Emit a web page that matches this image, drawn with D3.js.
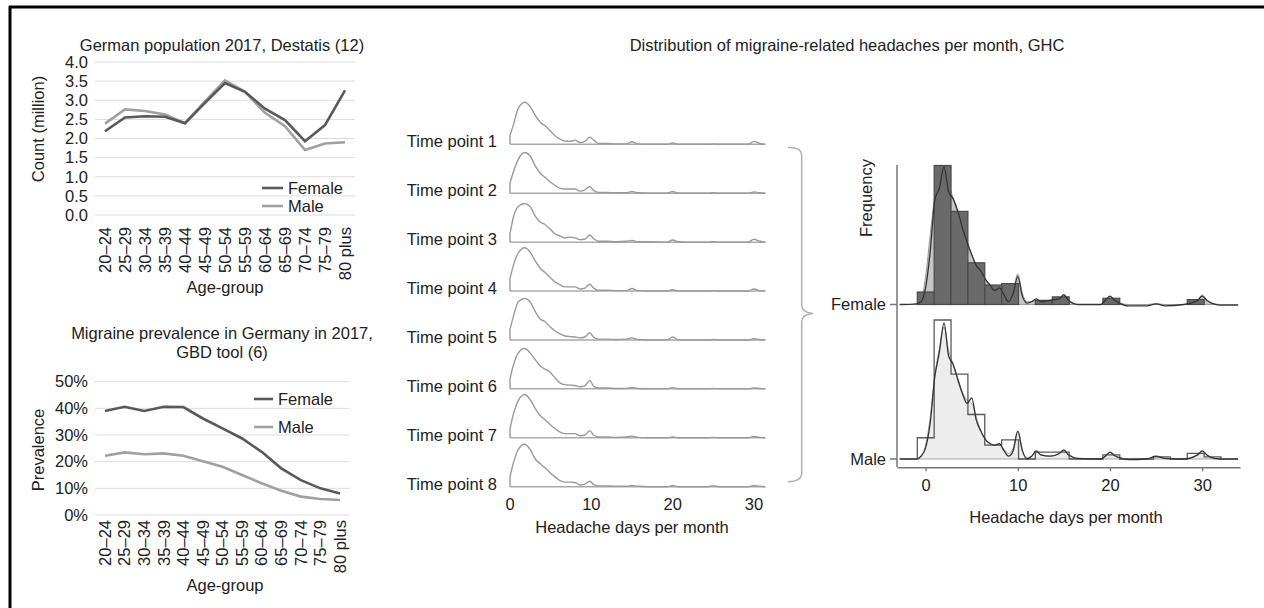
<!DOCTYPE html>
<html>
<head>
<meta charset="utf-8">
<script src="https://cdn.jsdelivr.net/npm/d3@7"></script>
<style>
    html, body { margin: 0; padding: 0; background: #fff; }
    svg { display: block; font-family: "Liberation Sans", Arial, sans-serif; }
    text { fill: #222; font-size: 16.5px; }
</style>
</head>
<body>
<script>
// age-group panels
const ageGroups = ['20–24', '25–29', '30–34', '35–39', '40–44', '45–49', '50–54', '55–59', '60–64', '65–69', '70–74', '75–79', '80 plus']
const popFemale = [2.19, 2.55, 2.58, 2.57, 2.4, 2.93, 3.45, 3.22, 2.78, 2.48, 1.93, 2.35, 3.26]
const popMale = [2.39, 2.76, 2.72, 2.63, 2.4, 2.97, 3.52, 3.22, 2.67, 2.32, 1.7, 1.87, 1.9]
const popTicks = [0, 0.5, 1, 1.5, 2, 2.5, 3, 3.5, 4]

const prevFemale = [39, 40.6, 39, 40.6, 40.5, 36.2, 32.5, 28.7, 23.7, 17.5, 13.1, 10, 8.1]
const prevMale = [22.2, 23.5, 22.8, 23.1, 22.2, 20.2, 18.1, 15, 11.9, 9.1, 6.9, 6, 5.6]
const prevTicks = [0, 10, 20, 30, 40, 50]

// ridgelines (relative density per time point)
const timePoints = ['Time point 1', 'Time point 2', 'Time point 3', 'Time point 4', 'Time point 5', 'Time point 6', 'Time point 7', 'Time point 8']
const ridgeDays = [0, 0.4, 1, 1.8, 2.5, 3.1, 3.7, 4.3, 4.9, 5.5, 6.1, 6.7, 7.4, 8, 8.6, 9.2, 9.8, 10.3, 10.9, 12, 13, 14.3, 15, 15.7, 17, 19.3, 20, 20.7, 22, 24.3, 25, 25.7, 27, 29.3, 30, 30.7, 31.4]
const tp1 = [0.21, 0.45, 0.85, 1.0, 0.89, 0.69, 0.53, 0.44, 0.33, 0.21, 0.13, 0.08, 0.07, 0.1, 0.04, 0.07, 0.17, 0.1, 0.02, 0.02, 0.01, 0.01, 0.06, 0.01, 0, 0, 0.03, 0, 0, 0, 0.01, 0, 0, 0, 0.07, 0.02, 0]
const tp2 = [0.24, 0.5, 0.8, 0.97, 0.88, 0.65, 0.48, 0.38, 0.28, 0.19, 0.12, 0.1, 0.1, 0.1, 0.05, 0.08, 0.16, 0.06, 0.02, 0.02, 0.01, 0.01, 0.04, 0.01, 0, 0, 0.04, 0, 0, 0, 0.01, 0, 0, 0, 0.03, 0.01, 0]
const tp3 = [0.2, 0.58, 0.85, 0.92, 0.84, 0.62, 0.48, 0.42, 0.32, 0.2, 0.15, 0.1, 0.12, 0.1, 0.06, 0.07, 0.17, 0.08, 0.02, 0.02, 0.01, 0.02, 0.04, 0.01, 0.01, 0, 0.05, 0.01, 0, 0, 0.01, 0, 0, 0, 0.07, 0.02, 0]
const tp4 = [0.3, 0.6, 0.9, 1.03, 0.92, 0.72, 0.55, 0.44, 0.33, 0.22, 0.15, 0.1, 0.1, 0.1, 0.05, 0.07, 0.16, 0.07, 0.02, 0.02, 0.01, 0.01, 0.06, 0.01, 0, 0, 0.03, 0, 0, 0, 0.01, 0, 0, 0, 0.05, 0.01, 0]
const tp5 = [0.25, 0.55, 0.9, 0.99, 0.9, 0.68, 0.5, 0.44, 0.32, 0.22, 0.15, 0.1, 0.08, 0.07, 0.05, 0.07, 0.17, 0.06, 0.02, 0.02, 0.01, 0.02, 0.05, 0.01, 0, 0, 0.07, 0, 0, 0, 0.01, 0, 0, 0, 0.03, 0.01, 0]
const tp6 = [0.24, 0.55, 0.85, 0.96, 0.85, 0.7, 0.55, 0.47, 0.4, 0.27, 0.15, 0.1, 0.09, 0.08, 0.05, 0.07, 0.2, 0.06, 0.02, 0.02, 0.01, 0.01, 0.03, 0.01, 0, 0, 0.03, 0, 0, 0, 0.01, 0, 0, 0, 0.02, 0.01, 0]
const tp7 = [0.21, 0.55, 0.88, 1.03, 0.9, 0.7, 0.53, 0.43, 0.32, 0.22, 0.14, 0.1, 0.1, 0.1, 0.05, 0.06, 0.17, 0.06, 0.02, 0.02, 0.01, 0.02, 0.04, 0.01, 0, 0, 0.02, 0, 0, 0, 0.01, 0, 0, 0, 0.03, 0.01, 0]
const tp8 = [0.24, 0.55, 0.88, 1.01, 0.88, 0.66, 0.55, 0.45, 0.34, 0.24, 0.15, 0.11, 0.11, 0.1, 0.04, 0.06, 0.13, 0.05, 0.02, 0.02, 0.01, 0.01, 0.03, 0.01, 0, 0, 0.03, 0, 0, 0, 0.02, 0, 0, 0, 0.03, 0.01, 0]
const ridgeTicks = [0, 10, 20, 30]

// pooled histogram + densities by sex
const histEdges = [-0.9, 0.93, 2.76, 4.59, 6.42, 8.25, 10.08, 11.91, 13.74, 15.57, 17.4, 19.23, 21.06, 22.89, 24.72, 26.55, 28.38, 30.21, 32.04]
const histFemale = [0.09, 1.0, 0.67, 0.3, 0.14, 0.15, 0, 0.03, 0.055, 0, 0, 0.045, 0, 0, 0, 0, 0.035, 0]
const histMale = [0.153, 1.0, 0.61, 0.32, 0.1, 0.137, 0, 0.05, 0.05, 0, 0, 0.03, 0, 0, 0.015, 0, 0.04, 0.015]
const densDays = [-2.8, -1, -0.5, 0, 0.5, 1, 1.5, 2, 2.5, 3, 3.5, 4, 4.5, 5, 5.5, 6, 6.5, 7, 7.5, 8, 8.5, 9, 9.5, 10, 10.5, 11, 11.5, 12, 12.5, 13.5, 14.5, 15, 15.5, 16.5, 19, 19.5, 20, 20.5, 21, 22, 24, 25, 26, 28, 29.5, 30, 30.5, 31, 32, 33.9]
const femaleSmooth = [0, 0, 0.03, 0.2, 0.5, 0.78, 0.9, 0.97, 0.87, 0.76, 0.65, 0.54, 0.44, 0.36, 0.28, 0.22, 0.17, 0.13, 0.11, 0.1, 0.07, 0.05, 0.1, 0.22, 0.08, 0.02, 0.02, 0.03, 0.02, 0.03, 0.04, 0.06, 0.03, 0, 0, 0.03, 0.06, 0.03, 0.01, 0, 0, 0.005, 0, 0, 0.03, 0.07, 0.03, 0.01, 0, 0]
const femaleRaw = [0, 0.005, 0.02, 0.12, 0.38, 0.75, 0.84, 0.99, 0.81, 0.76, 0.67, 0.55, 0.45, 0.36, 0.28, 0.24, 0.18, 0.14, 0.1, 0.12, 0.07, 0.02, 0.08, 0.2, 0.06, 0.01, 0.02, 0.04, 0.02, 0.03, 0.04, 0.07, 0.03, 0, 0, 0.03, 0.06, 0.03, 0.01, -0.01, -0.01, 0.005, -0.01, 0, 0.03, 0.06, 0.03, 0.01, -0.005, -0.005]
const maleSmooth = [0, 0, 0.02, 0.1, 0.3, 0.6, 0.8, 0.95, 0.78, 0.68, 0.58, 0.48, 0.42, 0.4, 0.3, 0.2, 0.14, 0.11, 0.1, 0.1, 0.07, 0.04, 0.08, 0.2, 0.06, 0.01, 0.02, 0.05, 0.03, 0.02, 0.04, 0.06, 0.03, 0, 0, 0.02, 0.05, 0.02, 0.01, 0, 0, 0.02, 0, 0, 0.03, 0.055, 0.03, 0.01, 0, 0]
const maleRaw = [0, 0, 0.02, 0.08, 0.26, 0.59, 0.77, 0.98, 0.74, 0.68, 0.57, 0.47, 0.4, 0.44, 0.28, 0.2, 0.14, 0.11, 0.1, 0.11, 0.06, 0.02, 0.06, 0.2, 0.06, 0, 0.02, 0.058, 0.03, 0.02, 0.04, 0.065, 0.03, 0.005, 0, 0.02, 0.05, 0.025, 0.01, -0.005, 0, 0.02, 0.005, 0, 0.03, 0.058, 0.03, 0.01, 0, 0]
const sexes = ['Female', 'Male']
const histTicks = [0, 10, 20, 30]

const width = 1264
const height = 608
const svg = d3.select('body').append('svg')
    .attr('width', width)
    .attr('height', height)

// frame
svg.append('line').attr('x1', 10).attr('x2', 10).attr('y1', 6).attr('y2', height)
    .attr('stroke', '#000').attr('stroke-width', 3)
svg.append('line').attr('x1', 9).attr('x2', width).attr('y1', 7).attr('y2', 7)
    .attr('stroke', '#000').attr('stroke-width', 3)

const femaleColor = '#595959'
const maleColor = '#a0a0a0'

function agePanel(opts) {
    const x = d3.scalePoint().domain(ageGroups).range(opts.xRange).padding(0)
    const y = d3.scaleLinear().domain(opts.yDomain).range(opts.yRange)
    const g = svg.append('g')

    g.selectAll('line.grid')
        .data(opts.ticks)
        .enter()
        .append('line')
        .attr('x1', opts.gridX[0])
        .attr('x2', opts.gridX[1])
        .attr('y1', d => y(d))
        .attr('y2', d => y(d))
        .attr('stroke', '#dcdcdc')
        .attr('stroke-width', 1)

    g.selectAll('text.ytick')
        .data(opts.ticks)
        .enter()
        .append('text')
        .attr('x', opts.gridX[0] - 7)
        .attr('y', d => y(d))
        .attr('dy', '0.35em')
        .attr('text-anchor', 'end')
        .text(opts.fmt)

    g.selectAll('text.xtick')
        .data(ageGroups)
        .enter()
        .append('text')
        .attr('transform', d => `translate(${x(d)},${opts.xLabelTop}) rotate(-90)`)
        .attr('dy', '0.35em')
        .attr('text-anchor', 'end')
        .text(d => d)

    const line = d3.line()
        .x((d, i) => x(ageGroups[i]))
        .y(d => y(d))

    g.append('path').datum(opts.male)
        .attr('d', line)
        .attr('fill', 'none')
        .attr('stroke', maleColor)
        .attr('stroke-width', 2.6)
    g.append('path').datum(opts.female)
        .attr('d', line)
        .attr('fill', 'none')
        .attr('stroke', femaleColor)
        .attr('stroke-width', 2.6)

    // legend
    const leg = [['Female', femaleColor], ['Male', maleColor]]
    leg.forEach((l, i) => {
        const ly = opts.legend.y + i * opts.legend.gap
        g.append('line')
            .attr('x1', opts.legend.x).attr('x2', opts.legend.x + opts.legend.len)
            .attr('y1', ly).attr('y2', ly)
            .attr('stroke', l[1]).attr('stroke-width', 2.6)
        g.append('text')
            .attr('x', opts.legend.x + opts.legend.len + 5)
            .attr('y', ly)
            .attr('dy', '0.35em')
            .text(l[0])
    })

    g.append('text')
        .attr('transform', `translate(38,${opts.yLabelY}) rotate(-90)`)
        .attr('dy', '0.35em')
        .attr('text-anchor', 'middle')
        .text(opts.yLabel)

    g.append('text')
        .attr('x', 225)
        .attr('y', opts.xLabelY)
        .attr('text-anchor', 'middle')
        .text('Age-group')

    opts.title.forEach((t, i) => {
        g.append('text')
            .attr('x', 222)
            .attr('y', opts.titleY + i * 19)
            .attr('text-anchor', 'middle')
            .text(t)
    })
}

agePanel({
    xRange: [105, 345], gridX: [95, 355],
    yDomain: [0, 4], yRange: [215, 62],
    ticks: popTicks, fmt: d3.format('.1f'),
    female: popFemale, male: popMale,
    xLabelTop: 227, xLabelY: 293,
    yLabel: 'Count (million)', yLabelY: 129,
    legend: { x: 262, y: 188, gap: 18, len: 21 },
    title: ['German population 2017, Destatis (12)'], titleY: 51
})

agePanel({
    xRange: [105, 340], gridX: [95, 350],
    yDomain: [0, 50], yRange: [515, 381.7],
    ticks: prevTicks, fmt: d => d + '%',
    female: prevFemale, male: prevMale,
    xLabelTop: 520, xLabelY: 591,
    yLabel: 'Prevalence', yLabelY: 450,
    legend: { x: 254, y: 399, gap: 28, len: 19 },
    title: ['Migraine prevalence in Germany in 2017,', 'GBD tool (6)'], titleY: 339
})

// middle: ridgelines
svg.append('text')
    .attr('x', 847)
    .attr('y', 51)
    .attr('text-anchor', 'middle')
    .text('Distribution of migraine-related headaches per month, GHC')

const ridgeX = d3.scaleLinear().domain([0, 30]).range([510, 754])
const ridgeY = d3.scalePoint().domain(timePoints).range([144.3, 486.7])
const ridgeH = d3.scaleLinear().domain([0, 1]).range([0, 42])
const ridges = [tp1, tp2, tp3, tp4, tp5, tp6, tp7, tp8]

timePoints.forEach((tp, i) => {
    const base = ridgeY(tp)
    const pts = ridgeDays.map((d, j) => [d, ridges[i][j]])
    const line = d3.line()
        .x(d => ridgeX(d[0]))
        .y(d => base - ridgeH(d[1]))
        .curve(d3.curveMonotoneX)

    svg.append('line')
        .attr('x1', ridgeX(0)).attr('x2', ridgeX(d3.max(ridgeDays)))
        .attr('y1', base).attr('y2', base)
        .attr('stroke', '#aaa').attr('stroke-width', 1.5)

    svg.append('path')
        .attr('d', 'M' + ridgeX(0) + ',' + base + 'L' + line(pts).slice(1))
        .attr('fill', 'none')
        .attr('stroke', '#9a9a9a')
        .attr('stroke-width', 1.4)

    svg.append('text')
        .attr('x', 497)
        .attr('y', base + 3)
        .attr('text-anchor', 'end')
        .text(tp)
})

svg.selectAll('text.ridge-tick')
    .data(ridgeTicks)
    .enter()
    .append('text')
    .attr('x', d => ridgeX(d))
    .attr('y', 510)
    .attr('text-anchor', 'middle')
    .text(d => d)

svg.append('text')
    .attr('x', 632)
    .attr('y', 533)
    .attr('text-anchor', 'middle')
    .text('Headache days per month')

// bracket
const br = d3.path()
br.moveTo(788, 147.5)
br.quadraticCurveTo(801.7, 147, 801.7, 156)
br.lineTo(801.7, 305)
br.quadraticCurveTo(801.7, 312.5, 813, 313.5)
br.quadraticCurveTo(801.7, 314.5, 801.7, 322)
br.lineTo(801.7, 473)
br.quadraticCurveTo(801.7, 481.5, 788, 481.7)
svg.append('path')
    .attr('d', br.toString())
    .attr('fill', 'none')
    .attr('stroke', '#b0b0b0')
    .attr('stroke-width', 1.5)

// right: pooled histograms
const hx = d3.scaleLinear().domain([-3.1, 34.1]).range([897, 1240])
const hBase = d3.scaleOrdinal().domain(sexes).range([304.5, 459])
const hh = d3.scaleLinear().domain([0, 1]).range([0, 139])

const panels = [
    { sex: 'Female', hist: histFemale, smooth: femaleSmooth, raw: femaleRaw, area: '#c6c6c6', areaStroke: '#9a9a9a', filled: true },
    { sex: 'Male', hist: histMale, smooth: maleSmooth, raw: maleRaw, area: '#ededed', areaStroke: '#a5a5a5', filled: false }
]

panels.forEach(p => {
    const base = hBase(p.sex)
    const smoothPts = densDays.map((d, j) => [d, p.smooth[j]])
    const rawPts = densDays.map((d, j) => [d, p.raw[j]])

    const area = d3.area()
        .x(d => hx(d[0]))
        .y0(base)
        .y1(d => base - hh(d[1]))
        .curve(d3.curveMonotoneX)
    svg.append('path')
        .attr('d', area(smoothPts))
        .attr('fill', p.area)
        .attr('stroke', p.areaStroke)
        .attr('stroke-width', 1)

    if (p.filled) {
        const bins = p.hist.map((v, j) => ({ x0: histEdges[j], x1: histEdges[j + 1], v: v })).filter(b => b.v > 0)
        svg.selectAll(null)
            .data(bins)
            .enter()
            .append('rect')
            .attr('x', d => hx(d.x0))
            .attr('width', d => hx(d.x1) - hx(d.x0))
            .attr('y', d => base - hh(d.v))
            .attr('height', d => hh(d.v))
            .attr('fill', '#6a6a6a')
            .attr('stroke', '#4a4a4a')
            .attr('stroke-width', 1.2)
    } else {
        // outline only, drawn as one step path
        const stepPts = [[histEdges[0], 0]]
            .concat(p.hist.map((v, j) => [histEdges[j], v]))
            .concat([[histEdges[histEdges.length - 1], 0]])
        const step = d3.line()
            .x(d => hx(d[0]))
            .y(d => base - hh(d[1]))
            .curve(d3.curveStepAfter)
        svg.append('path')
            .attr('d', step(stepPts))
            .attr('fill', 'none')
            .attr('stroke', '#5a5a5a')
            .attr('stroke-width', 1.3)
    }

    const line = d3.line()
        .x(d => hx(d[0]))
        .y(d => base - hh(d[1]))
        .curve(d3.curveMonotoneX)
    svg.append('path')
        .attr('d', line(rawPts))
        .attr('fill', 'none')
        .attr('stroke', '#333')
        .attr('stroke-width', 1.3)

    svg.append('line')
        .attr('x1', 890).attr('x2', 897)
        .attr('y1', base).attr('y2', base)
        .attr('stroke', '#777').attr('stroke-width', 1.5)
    svg.append('text')
        .attr('x', 886)
        .attr('y', base)
        .attr('dy', '0.35em')
        .attr('text-anchor', 'end')
        .text(p.sex)
})

// axes of right panel
svg.append('line')
    .attr('x1', 897).attr('x2', 897)
    .attr('y1', 165).attr('y2', 467.3)
    .attr('stroke', '#777').attr('stroke-width', 1.5)

const xAxis = svg.append('g')
    .attr('transform', 'translate(0,467.3)')
    .call(d3.axisBottom(hx).tickValues(histTicks).tickSizeInner(4).tickSizeOuter(0).tickPadding(8))
xAxis.attr('font-size', null).attr('font-family', null)
xAxis.select('.domain').attr('stroke', '#777').attr('stroke-width', 1.5)
xAxis.selectAll('.tick line').attr('stroke', '#777').attr('stroke-width', 1.3)
xAxis.selectAll('.tick text').attr('fill', '#222')

svg.append('text')
    .attr('x', 1066)
    .attr('y', 523)
    .attr('text-anchor', 'middle')
    .text('Headache days per month')

svg.append('text')
    .attr('transform', 'translate(866,198) rotate(-90)')
    .attr('dy', '0.35em')
    .attr('text-anchor', 'middle')
    .text('Frequency')
</script>
</body>
</html>
